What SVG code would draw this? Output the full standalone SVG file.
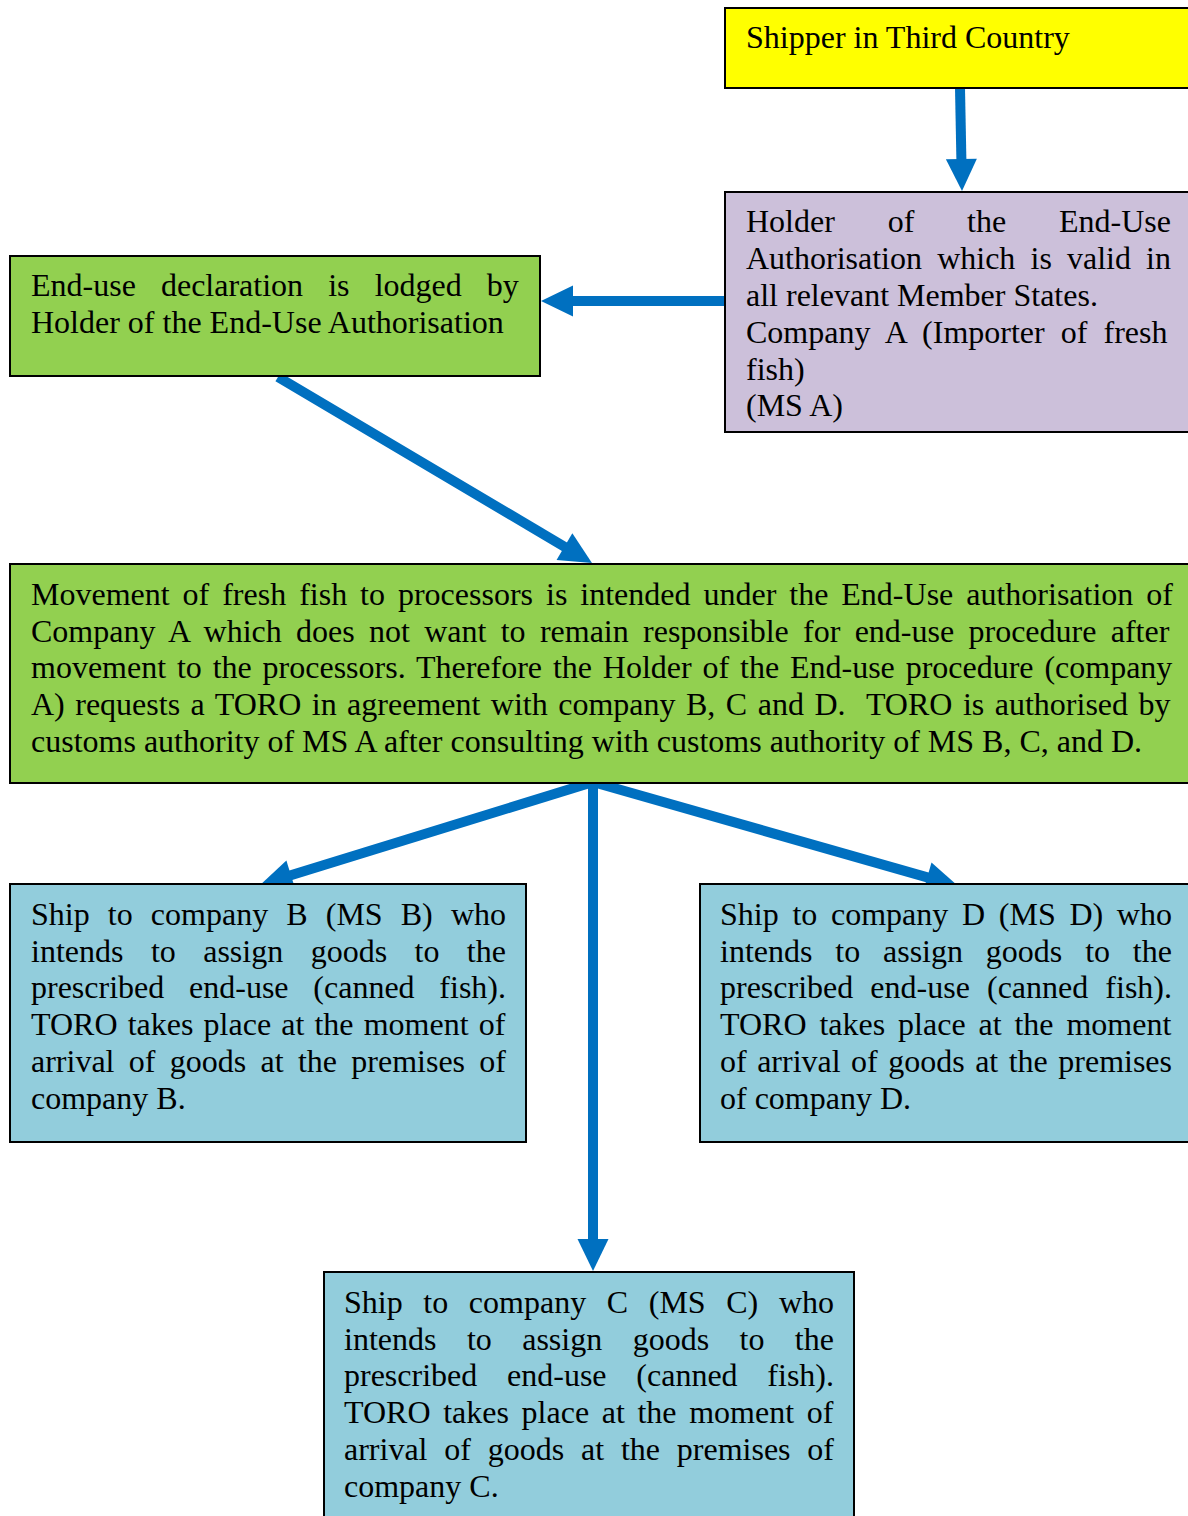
<svg xmlns="http://www.w3.org/2000/svg" width="1188" height="1516" viewBox="0 0 1188 1516">
<style>
.t{font-family:"Liberation Serif","Times New Roman",serif;font-size:32px;fill:#000;white-space:pre}
.box{stroke:#000;stroke-width:2}
.arr{stroke:#0070C0;stroke-width:10;fill:none;marker-end:url(#ah)}
</style>
<defs>
<marker id="ah" markerUnits="userSpaceOnUse" markerWidth="34" markerHeight="32" refX="1" refY="0" orient="auto" overflow="visible">
<path d="M0,-15.5 L32,0 L0,15.5 z" fill="#0070C0"/>
</marker>
</defs>
<rect width="1188" height="1516" fill="#fff"/>
<g id="connectors">
<line class="arr" x1="960" y1="88" x2="961.4" y2="160"/>
<line class="arr" x1="725" y1="301" x2="572" y2="301"/>
<line class="arr" x1="278" y1="377" x2="565.3" y2="547.2"/>
<line class="arr" x1="593" y1="782" x2="290" y2="875.5"/>
<line class="arr" x1="593" y1="782" x2="928.2" y2="877.6"/>
<line class="arr" x1="593" y1="782" x2="593" y2="1240"/>
</g>
<g id="shipper">
<rect class="box" x="725" y="8" width="480" height="80" fill="#FFFF00"/>
<text class="t" x="746" y="48">Shipper in Third Country</text>
</g>
<g id="holder">
<rect class="box" x="725" y="192" width="480" height="240" fill="#CCC0DA"/>
<text class="t" x="746" y="232" word-spacing="44.8">Holder of the End-Use</text>
<text class="t" x="746" y="269" word-spacing="7.15">Authorisation which is valid in</text>
<text class="t" x="746" y="306">all relevant Member States.</text>
<text class="t" x="746" y="343" word-spacing="8.05">Company A (Importer of fresh</text>
<text class="t" x="746" y="380">fish)</text>
<text class="t" x="746" y="416">(MS A)</text>
</g>
<g id="declaration">
<rect class="box" x="10" y="256" width="530" height="120" fill="#92D050"/>
<text class="t" x="31" y="296" word-spacing="17.1">End-use declaration is lodged by</text>
<text class="t" x="31" y="333">Holder of the End-Use Authorisation</text>
</g>
<g id="movement">
<rect class="box" x="10" y="564" width="1195" height="219" fill="#92D050"/>
<text class="t" x="31" y="605" word-spacing="4.96">Movement of fresh fish to processors is intended under the End-Use authorisation of</text>
<text class="t" x="31" y="642" word-spacing="6.29">Company A which does not want to remain responsible for end-use procedure after</text>
<text class="t" x="31" y="678" word-spacing="2.84">movement to the processors. Therefore the Holder of the End-use procedure (company</text>
<text class="t" x="31" y="715" word-spacing="2.49">A) requests a TORO in agreement with company B, C and D.  TORO is authorised by</text>
<text class="t" x="31" y="752">customs authority of MS A after consulting with customs authority of MS B, C, and D.</text>
</g>
<g id="companyB">
<rect class="box" x="10" y="884" width="516" height="258" fill="#92CDDC"/>
<text class="t" x="31" y="925" word-spacing="10.13">Ship to company B (MS B) who</text>
<text class="t" x="31" y="962" word-spacing="19.44">intends to assign goods to the</text>
<text class="t" x="31" y="998" word-spacing="16.77">prescribed end-use (canned fish).</text>
<text class="t" x="31" y="1035" word-spacing="2.15">TORO takes place at the moment of</text>
<text class="t" x="31" y="1072" word-spacing="6.3">arrival of goods at the premises of</text>
<text class="t" x="31" y="1109">company B.</text>
</g>
<g id="companyD">
<rect class="box" x="700" y="884" width="505" height="258" fill="#92CDDC"/>
<text class="t" x="720" y="925" word-spacing="5.7">Ship to company D (MS D) who</text>
<text class="t" x="720" y="962" word-spacing="14.84">intends to assign goods to the</text>
<text class="t" x="720" y="998" word-spacing="9.1">prescribed end-use (canned fish).</text>
<text class="t" x="720" y="1035" word-spacing="4.9">TORO takes place at the moment</text>
<text class="t" x="720" y="1072" word-spacing="2.47">of arrival of goods at the premises</text>
<text class="t" x="720" y="1109">of company D.</text>
</g>
<g id="companyC">
<rect class="box" x="324" y="1272" width="530" height="260" fill="#92CDDC"/>
<text class="t" x="344" y="1313" word-spacing="12.63">Ship to company C (MS C) who</text>
<text class="t" x="344" y="1350" word-spacing="22.44">intends to assign goods to the</text>
<text class="t" x="344" y="1386" word-spacing="21.77">prescribed end-use (canned fish).</text>
<text class="t" x="344" y="1423" word-spacing="4.65">TORO takes place at the moment of</text>
<text class="t" x="344" y="1460" word-spacing="8.8">arrival of goods at the premises of</text>
<text class="t" x="344" y="1497">company C.</text>
</g>
</svg>
